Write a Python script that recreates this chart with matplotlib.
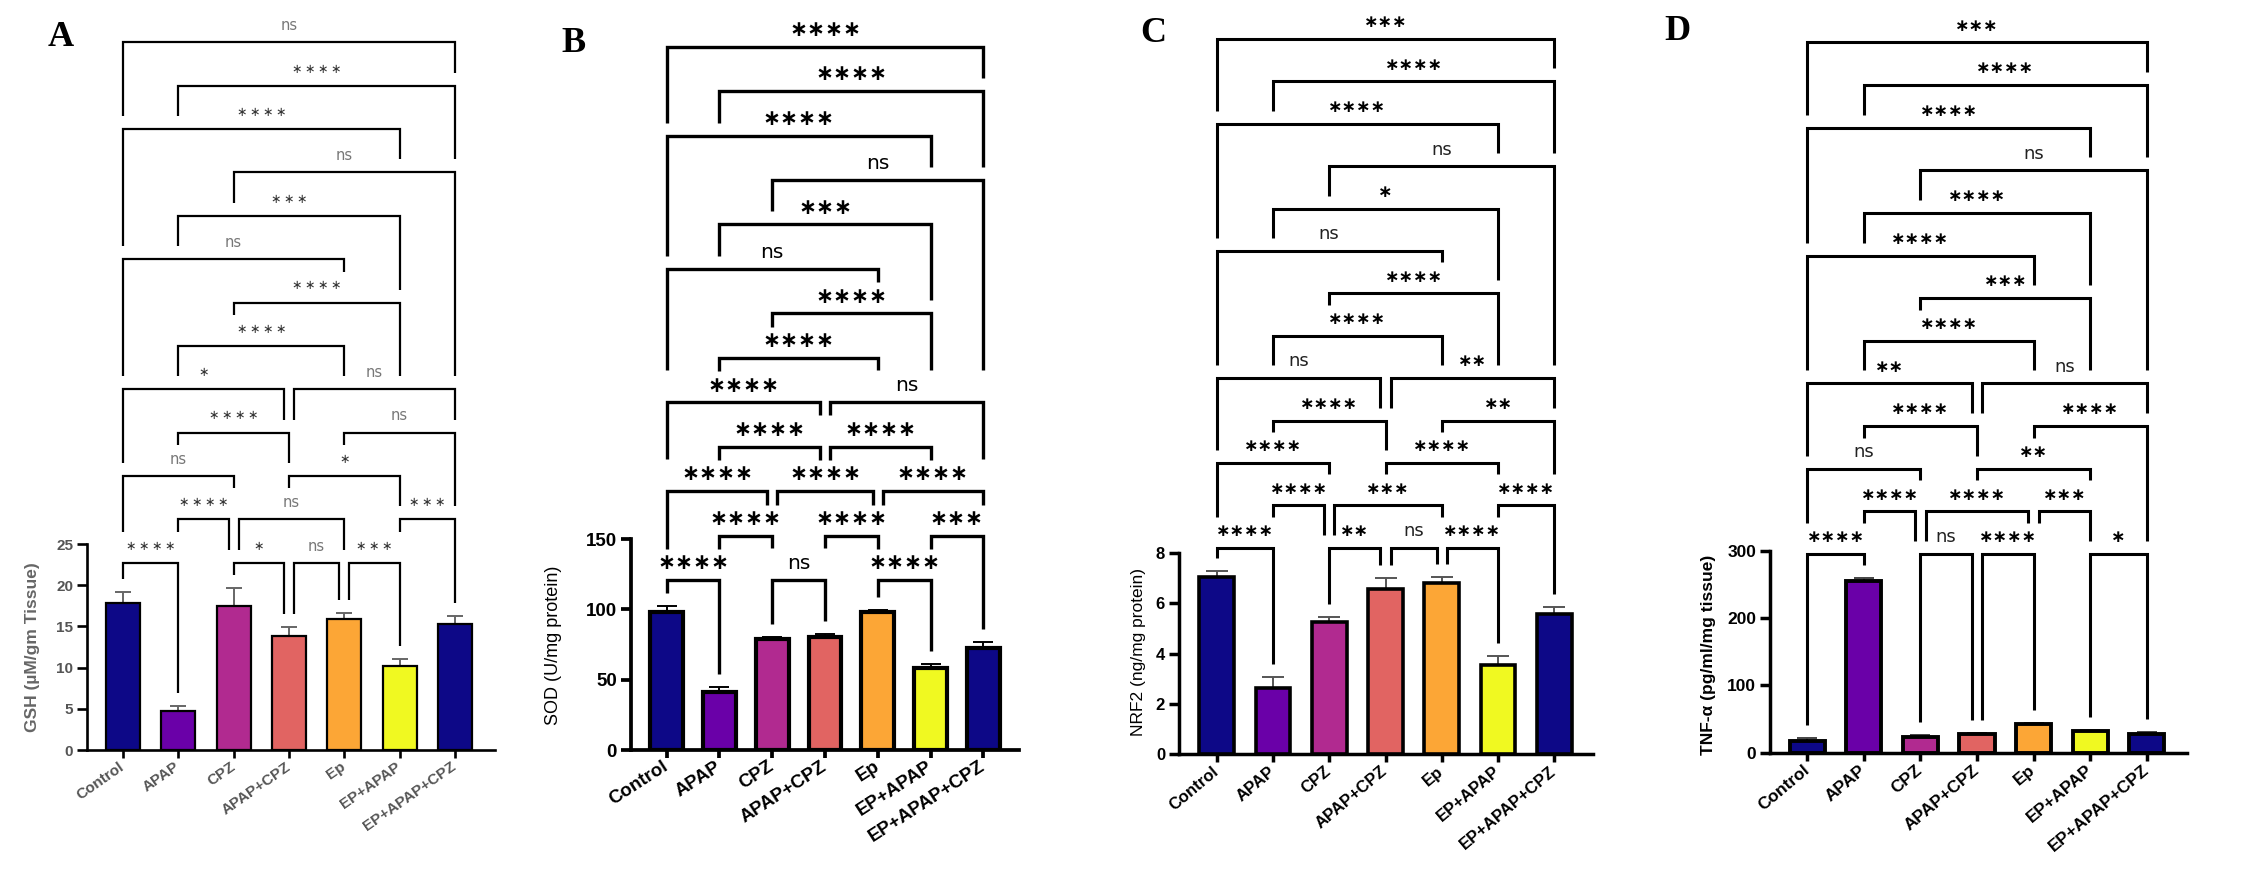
import numpy as np
import matplotlib
matplotlib.use('Agg')
import matplotlib.pyplot as plt

plt.rcParams['font.family'] = ['Liberation Sans', 'DejaVu Sans']

W, H = 2261, 871

groups = ['Control', 'APAP', 'CPZ', 'APAP+CPZ', 'Ep', 'EP+APAP', 'EP+APAP+CPZ']
bar_colors = ['#0d0887', '#6a00a8', '#b12a90', '#e16462', '#fca636', '#f0f921', '#0d0887']

# ---------------- A : GSH ----------------
gsh_mean = [17.8, 4.7, 17.5, 13.8, 15.9, 10.2, 15.3]
gsh_err = [1.4, 0.7, 2.2, 1.1, 0.7, 0.8, 1.0]
gsh_ticks = [0, 5, 10, 15, 20, 25]
gsh_rows = [
    [(0, 1, '****'), (2, 3, '*'), (3, 4, 'ns'), (4, 5, '***')],
    [(1, 2, '****'), (2, 4, 'ns'), (5, 6, '***')],
    [(0, 2, 'ns'), (3, 5, '*')],
    [(1, 3, '****'), (4, 6, 'ns')],
    [(0, 3, '*'), (3, 6, 'ns')],
    [(1, 4, '****')],
    [(2, 5, '****')],
    [(0, 4, 'ns')],
    [(1, 5, '***')],
    [(2, 6, 'ns')],
    [(0, 5, '****')],
    [(1, 6, '****')],
    [(0, 6, 'ns')],
]

# ---------------- B : SOD ----------------
sod_mean = [98.3, 41.5, 78.7, 80.1, 98.3, 58.1, 72.7]
sod_err = [4.1, 3.5, 1.6, 2.6, 1.5, 2.8, 4.3]
sod_ticks = [0, 50, 100, 150]
sod_rows = [
    [(0, 1, '****'), (2, 3, 'ns'), (4, 5, '****')],
    [(1, 2, '****'), (3, 4, '****'), (5, 6, '***')],
    [(0, 2, '****'), (2, 4, '****'), (4, 6, '****')],
    [(1, 3, '****'), (3, 5, '****')],
    [(0, 3, '****'), (3, 6, 'ns')],
    [(1, 4, '****')],
    [(2, 5, '****')],
    [(0, 4, 'ns')],
    [(1, 5, '***')],
    [(2, 6, 'ns')],
    [(0, 5, '****')],
    [(1, 6, '****')],
    [(0, 6, '****')],
]

# ---------------- C : NRF2 ----------------
nrf2_mean = [7.07, 2.62, 5.28, 6.58, 6.83, 3.55, 5.57]
nrf2_err = [0.23, 0.44, 0.19, 0.45, 0.24, 0.36, 0.28]
nrf2_ticks = [0, 2, 4, 6, 8]
nrf2_rows = [
    [(0, 1, '****'), (2, 3, '**'), (3, 4, 'ns'), (4, 5, '****')],
    [(1, 2, '****'), (2, 4, '***'), (5, 6, '****')],
    [(0, 2, '****'), (3, 5, '****')],
    [(1, 3, '****'), (4, 6, '**')],
    [(0, 3, 'ns'), (3, 6, '**')],
    [(1, 4, '****')],
    [(2, 5, '****')],
    [(0, 4, 'ns')],
    [(1, 5, '*')],
    [(2, 6, 'ns')],
    [(0, 5, '****')],
    [(1, 6, '****')],
    [(0, 6, '***')],
]

# ---------------- D : TNF-a ----------------
tnf_mean = [17.9, 255.8, 22.8, 27.3, 42.1, 32.7, 27.8]
tnf_err = [3.4, 4.0, 3.0, 1.5, 2.5, 1.5, 2.4]
tnf_ticks = [0, 100, 200, 300]
tnf_rows = [
    [(0, 1, '****'), (2, 3, 'ns'), (3, 4, '****'), (5, 6, '*')],
    [(1, 2, '****'), (2, 4, '****'), (4, 5, '***')],
    [(0, 2, 'ns'), (3, 5, '**')],
    [(1, 3, '****'), (4, 6, '****')],
    [(0, 3, '**'), (3, 6, 'ns')],
    [(1, 4, '****')],
    [(2, 5, '***')],
    [(0, 4, '****')],
    [(1, 5, '****')],
    [(2, 6, 'ns')],
    [(0, 5, '****')],
    [(1, 6, '****')],
    [(0, 6, '***')],
]

# layout of each panel, in pixels of the final picture
panels = [
    dict(letter='A', lpos=(61, 37), mean=gsh_mean, err=gsh_err, ticks=gsh_ticks, rows=gsh_rows,
         ylabel='GSH (µM/gm Tissue)', ylpos=(33, 647),
         left=87, right=495, y0=750, tick_px=544, g0=123, g6=455, lvl1=562.7, lvl13=42.3,
         lw=1.6, edge=1.6, ecol='#666666', cap=6, tcol='#555555', tsize=11, tweight='bold',
         rot=35, ylsize=12.5, ylweight='bold', ylcol='#666666',
         star_px=14, ns_px=22, star_size=9, ns_size=10.5, star_col='#333333', ns_col='#777777',
         star_weight='normal', sep='\u2009', multi_gap=13),
    dict(letter='B', lpos=(573, 44), mean=sod_mean, err=sod_err, ticks=sod_ticks, rows=sod_rows,
         ylabel='SOD (U/mg protein)', ylpos=(553, 645),
         left=631, right=1019, y0=750, tick_px=539, g0=666.7, g6=983.3, lvl1=580, lvl13=46.7,
         lw=2.4, edge=3.0, ecol='black', cap=7, tcol='black', tsize=13.5, tweight='bold',
         rot=33, ylsize=13, ylweight='normal', ylcol='black',
         star_px=18, ns_px=27, star_size=15.5, ns_size=14.5, star_col='black', ns_col='black',
         star_weight='bold', sep='', multi_gap=32),
    dict(letter='C', lpos=(1153, 34), mean=nrf2_mean, err=nrf2_err, ticks=nrf2_ticks, rows=nrf2_rows,
         ylabel='NRF2 (ng/mg protein)', ylpos=(1138, 652),
         left=1179, right=1593, y0=754, tick_px=553.3, g0=1216.7, g6=1554.3, lvl1=547.7, lvl13=39,
         lw=2.2, edge=2.6, ecol='#555555', cap=8, tcol='black', tsize=12, tweight='bold',
         rot=40, ylsize=12.5, ylweight='normal', ylcol='black',
         star_px=14, ns_px=21, star_size=12.5, ns_size=13, star_col='black', ns_col='#222222',
         star_weight='bold', sep='', multi_gap=13),
    dict(letter='D', lpos=(1677, 32), mean=tnf_mean, err=tnf_err, ticks=tnf_ticks, rows=tnf_rows,
         ylabel='TNF-α (pg/ml/mg tissue)', ylpos=(1708, 655),
         left=1770, right=2187, y0=752.7, tick_px=551, g0=1807.3, g6=2146.7, lvl1=554, lvl13=42.3,
         lw=2.2, edge=2.8, ecol='#444444', cap=7, tcol='black', tsize=12.5, tweight='bold',
         rot=40, ylsize=12.5, ylweight='bold', ylcol='black',
         star_px=14, ns_px=21, star_size=12.5, ns_size=13, star_col='black', ns_col='#222222',
         star_weight='bold', sep='', multi_gap=13),
]

fig = plt.figure(figsize=(W / 100, H / 100), dpi=100)


def draw_panel(p):
    unit = (p['g6'] - p['g0']) / 6.0          # px per group
    sc = p['ticks'][-1] / (p['y0'] - p['tick_px'])  # data units per px
    ax = fig.add_axes([p['left'] / W, 1 - p['y0'] / H, (p['right'] - p['left']) / W, p['y0'] / H])
    ax.set_xlim((p['left'] - p['g0']) / unit, (p['right'] - p['g0']) / unit)
    ax.set_ylim(0, p['y0'] * sc)
    ax.patch.set_alpha(0)

    x = np.arange(len(groups))
    ax.bar(x, p['mean'], width=0.62, color=bar_colors, edgecolor='black', linewidth=p['edge'], zorder=3)
    ax.errorbar(x, p['mean'], yerr=[np.zeros(len(x)), p['err']], fmt='none', ecolor=p['ecol'],
                elinewidth=1.4, capsize=p['cap'], capthick=1.4, zorder=2)

    for s in ['top', 'right']:
        ax.spines[s].set_visible(False)
    ax.spines['left'].set_bounds(0, p['ticks'][-1])
    ax.spines['left'].set_linewidth(p['lw'] + 0.3)
    ax.spines['bottom'].set_linewidth(p['lw'] + 0.3)
    ax.set_yticks(p['ticks'])
    ax.set_xticks(x)
    ax.set_xticklabels(groups, rotation=p['rot'], ha='right', va='center', rotation_mode='anchor')
    ax.tick_params(axis='y', length=7, width=p['lw'] + 0.3, pad=3, labelsize=p['tsize'],
                   labelcolor=p['tcol'])
    ax.tick_params(axis='x', length=6, width=p['lw'] + 0.3, pad=5, labelsize=p['tsize'],
                   labelcolor=p['tcol'])
    for t in ax.get_xticklabels() + ax.get_yticklabels():
        t.set_fontweight(p['tweight'])

    # ---- significance brackets ----
    off = 0.09
    step = (p['lvl1'] - p['lvl13']) / (len(p['rows']) - 1)

    def level(r):
        return (p['y0'] - (p['lvl1'] - r * step)) * sc

    def label_w(s):
        return p['ns_px'] if s == 'ns' else len(s) * p['star_px']

    spans = []
    for row in p['rows']:
        rights = [j for i, j, s in row]
        lefts = [i for i, j, s in row]
        out = []
        for i, j, s in row:
            a = i + off if i in rights else i
            b = j - off if j in lefts else j
            out.append((a, b, s))
        spans.append(out)

    def leg_bottom(xx, r):
        for rr in range(r - 1, -1, -1):
            lo = min(a for a, b, s in spans[rr]) - 0.02
            hi = max(b for a, b, s in spans[rr]) + 0.02
            lab = any(abs(xx - (a + b) / 2) <= (label_w(s) / 2 + 6) / unit for a, b, s in spans[rr])
            if lo <= xx <= hi or lab:
                if lab:
                    g = 31
                elif len(spans[rr]) > 1:
                    g = p['multi_gap']
                else:
                    g = 13
                return level(rr) + g * sc
        k = int(round(xx))
        return p['mean'][k] + p['err'][k] + 13 * sc

    for r, row in enumerate(spans):
        y = level(r)
        for a, b, s in row:
            ax.plot([a, a, b, b], [leg_bottom(a, r), y, y, leg_bottom(b, r)], color='black',
                    lw=p['lw'], solid_joinstyle='miter', solid_capstyle='butt', clip_on=False, zorder=4)
            if s == 'ns':
                txt, size, col, wt = 'ns', p['ns_size'], p['ns_col'], 'normal'
            else:
                txt, size, col, wt = (p['sep'].join(['\u2217'] * len(s)), p['star_size'],
                                      p['star_col'], p['star_weight'])
            ax.annotate(txt, ((a + b) / 2, y), xytext=(0, 12), textcoords='offset points',
                        ha='center', va='center', fontsize=size, color=col, fontweight=wt,
                        family=['DejaVu Sans'], annotation_clip=False)

    fig.text(p['ylpos'][0] / W, 1 - p['ylpos'][1] / H, p['ylabel'], rotation=90, ha='center',
             va='center', fontsize=p['ylsize'], fontweight=p['ylweight'], color=p['ylcol'])
    fig.text(p['lpos'][0] / W, 1 - p['lpos'][1] / H, p['letter'], ha='center', va='center',
             fontsize=26, fontweight='bold', family=['Liberation Serif', 'DejaVu Serif'])
    return ax


for p in panels:
    draw_panel(p)

fig.savefig('out.png', dpi=100)
